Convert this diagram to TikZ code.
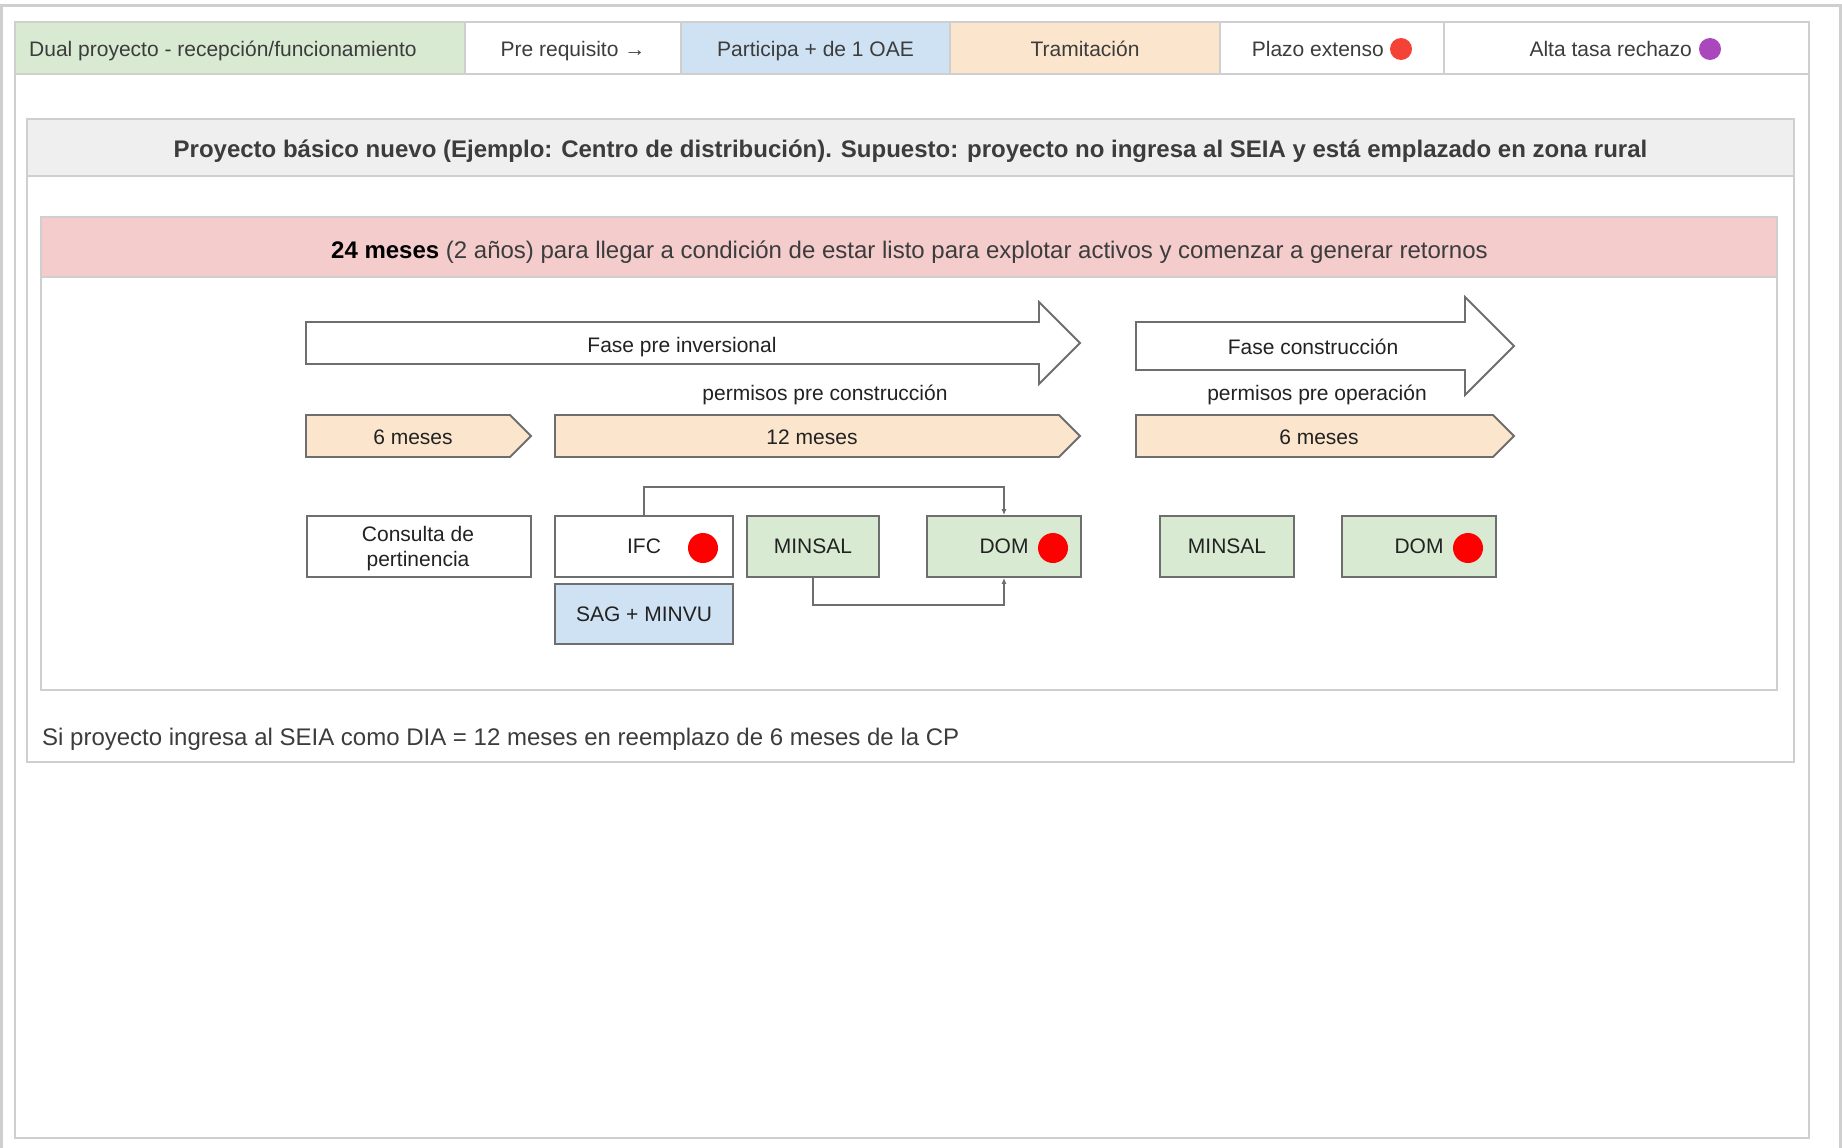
\documentclass[tikz,border=0pt]{standalone}
\usepackage{fontspec}
\setmainfont{Liberation Sans}
\usetikzlibrary{arrows.meta}
\definecolor{gridgray}{HTML}{CFCFCF}
\definecolor{cgreen}{HTML}{D9EAD3}
\definecolor{cblue}{HTML}{CFE2F3}
\definecolor{corange}{HTML}{FCE5CD}
\definecolor{cpink}{HTML}{F4CCCC}
\definecolor{ctitle}{HTML}{EFEFEF}
\definecolor{txtgray}{HTML}{3C3C3C}
\definecolor{dtext}{HTML}{222222}
\definecolor{shapeline}{HTML}{6E6E6E}
\definecolor{emred}{HTML}{F44336}
\definecolor{empurple}{HTML}{AB47BC}
\definecolor{dotred}{HTML}{FF0000}
\begin{document}
\begin{tikzpicture}[x=1pt,y=-1pt,
  tline/.style={draw=gridgray,line width=2.5pt},
  htext/.style={inner sep=0pt,text=txtgray,font=\fontsize{21}{25}\selectfont,anchor=base},
  btext/.style={inner sep=0pt,text=txtgray,font=\fontsize{24}{28}\selectfont,anchor=base},
  dtxt/.style={inner sep=0pt,text=dtext,font=\fontsize{21}{25}\selectfont,anchor=base},
  shp/.style={draw=shapeline,line width=1.8pt,line join=miter},
  box/.style={shp,rectangle,inner sep=0pt,minimum height=61pt,text=dtext,
    font=\fontsize{21}{25}\selectfont,align=center},
  emo/.style={circle,inner sep=0pt,minimum size=22pt},
  rdot/.style={circle,inner sep=0pt,minimum size=30pt,fill=dotred},
  conn/.style={draw=shapeline,line width=1.4pt,-{Latex[length=6pt,width=5pt]}}
]
\useasboundingbox (0,0) rectangle (1842,1148);
\fill[white] (0,0) rectangle (1842,1148);
% outer frame
\draw[tline] (0,5.5) -- (1842,5.5);
\draw[tline] (1.3,5.5) -- (1.3,1148);
\draw[tline] (1840.7,5.5) -- (1840.7,1148);
% header cells
\path[fill=cgreen] (15,22) rectangle (465,74);
\path[fill=cblue] (681,22) rectangle (950,74);
\path[fill=corange] (950,22) rectangle (1220,74);
\draw[tline] (15,22) rectangle (1809,1138);
\draw[tline] (15,74) -- (1809,74);
\foreach \xx in {465,681,950,1220,1444}{\draw[tline] (\xx,22) -- (\xx,74);}
\node[htext,anchor=base west] (hdual) at (29,57) {Dual proyecto - recepción/funcionamiento};
\node[htext] (hpre) at (573,57) {Pre requisito →};
\node[htext] (hpart) at (815.5,57) {Participa + de 1 OAE};
\node[htext] (htram) at (1085,57) {Tramitación};
\node[htext,anchor=base east] (hplazo) at (1384,57) {Plazo extenso};
\node[emo,fill=emred] (eplazo) at (1401,49) {};
\node[htext,anchor=base east] (halta) at (1692,57) {Alta tasa rechazo};
\node[emo,fill=empurple] (ealta) at (1710,49) {};
% main container
\draw[tline,fill=ctitle] (27,119) rectangle (1794,176);
\draw[tline] (27,176) rectangle (1794,762);
\node[btext,font=\fontsize{24}{28}\selectfont\bfseries] (title) at (910.5,157)
  {Proyecto básico nuevo (Ejemplo: Centro de distribución). Supuesto: proyecto no ingresa al SEIA y está emplazado en zona rural};
\draw[tline,fill=cpink] (41,217) rectangle (1777,277);
\draw[tline] (41,277) rectangle (1777,690);
\node[btext] (pink) at (909.5,258)
  {\textcolor{black}{\textbf{24 meses}} (2 años) para llegar a condición de estar listo para explotar activos y comenzar a generar retornos};
\node[btext,anchor=base west] (note) at (42,745)
  {Si proyecto ingresa al SEIA como DIA = 12 meses en reemplazo de 6 meses de la CP};
% big phase arrows
\draw[shp,fill=white] (306,322) -- (1039,322) -- (1039,302) -- (1080,343) -- (1039,384) -- (1039,364) -- (306,364) -- cycle;
\node[dtxt] (fpi) at (682,352) {Fase pre inversional};
\draw[shp,fill=white] (1136,322) -- (1465,322) -- (1465,297) -- (1514,346) -- (1465,395) -- (1465,370) -- (1136,370) -- cycle;
\node[dtxt] (fco) at (1313,354) {Fase construcción};
\node[dtxt] (ppc) at (825,400) {permisos pre construcción};
\node[dtxt] (ppo) at (1317,400) {permisos pre operación};
% duration chevrons
\draw[shp,fill=corange] (306,415) -- (510,415) -- (531,436) -- (510,457) -- (306,457) -- cycle;
\node[dtxt] (m6a) at (413,444) {6 meses};
\draw[shp,fill=corange] (555,415) -- (1059,415) -- (1080,436) -- (1059,457) -- (555,457) -- cycle;
\node[dtxt] (m12) at (812,444) {12 meses};
\draw[shp,fill=corange] (1136,415) -- (1493,415) -- (1514,436) -- (1493,457) -- (1136,457) -- cycle;
\node[dtxt] (m6b) at (1319,444) {6 meses};
% permit boxes
\node[box,fill=white,minimum width=224pt] (cp) at (419,546.5) {};
\node[dtxt] (cpa) at (418,541) {Consulta de};
\node[dtxt] (cpb) at (418,566) {pertinencia};
\node[box,fill=white,minimum width=178pt] (ifc) at (644,546.5) {IFC};
\node[rdot] (ifcdot) at (703,548) {};
\node[box,fill=cblue,minimum width=178pt,minimum height=60pt] (sag) at (644,614) {SAG + MINVU};
\node[box,fill=cgreen,minimum width=132pt] (minsal) at (813,546.5) {MINSAL};
\node[box,fill=cgreen,minimum width=154pt] (dom) at (1004,546.5) {DOM};
\node[rdot] (domdot) at (1053,548) {};
\node[box,fill=cgreen,minimum width=134pt] (minsalb) at (1227,546.5) {MINSAL};
\node[box,fill=cgreen,minimum width=154pt] (domb) at (1419,546.5) {DOM};
\node[rdot] (dombdot) at (1468,548) {};
% connectors
\coordinate (k1) at (644,487);
\coordinate (k2) at (813,605);
\draw[conn] (ifc.north) -- (k1) -| (dom.north);
\draw[conn] (minsal.south) -- (k2) -| (dom.south);
\end{tikzpicture}
\end{document}
